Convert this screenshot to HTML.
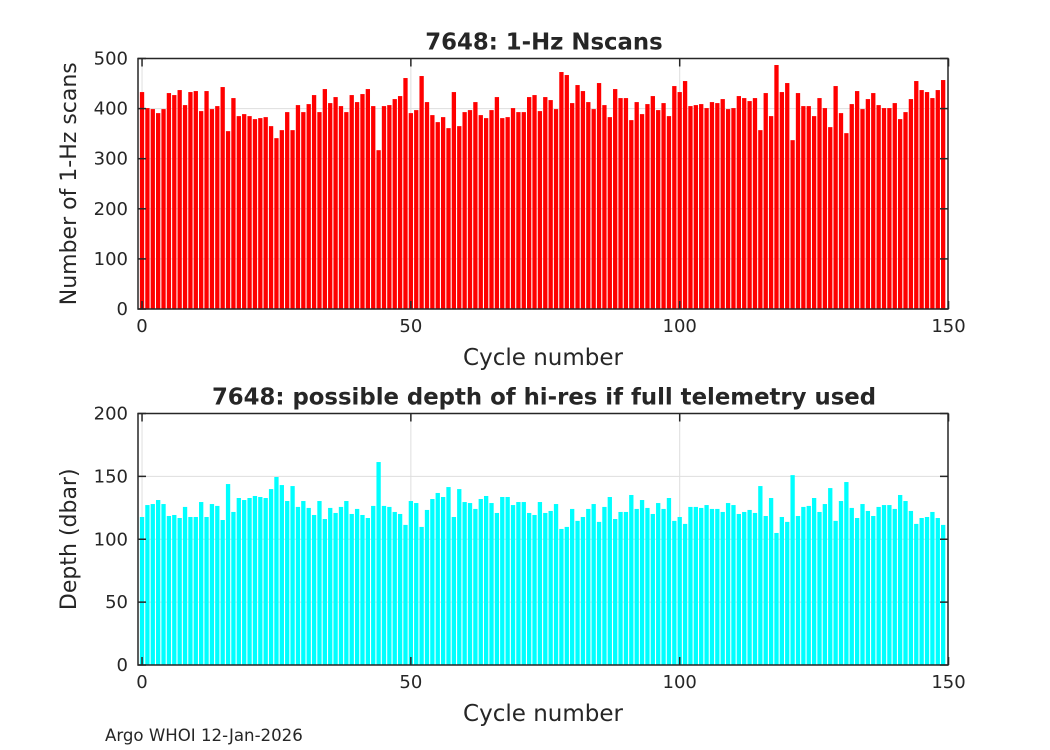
<!DOCTYPE html>
<html><head><meta charset="utf-8"><style>
body{margin:0;background:#fff;width:1050px;height:750px;overflow:hidden}
svg{display:block}
text{font-family:"DejaVu Sans","Liberation Sans",sans-serif;fill:#262626}
</style></head><body>
<svg id="chart" width="1050" height="750" viewBox="0 0 1050 750">
<rect width="1050" height="750" fill="#fff"/>
<text x="105" y="741" font-size="16.6" fill="#000">Argo WHOI 12-Jan-2026</text>
</svg>
<script>
const nscans = [433,401,399,391,399,431,427,437,407,433,435,395,435,399,405,443,355,421,385,389,385,379,381,383,365,341,357,393,357,407,393,409,427,393,439,411,423,405,393,427,413,429,439,405,317,405,407,419,425,461,391,397,465,413,387,373,383,361,433,365,393,397,413,387,381,397,423,381,383,401,393,393,423,427,395,423,417,399,473,467,411,447,435,413,399,451,407,383,439,421,421,377,413,389,409,425,397,411,385,445,433,455,405,407,409,401,413,411,419,399,401,425,421,415,421,357,431,385,487,433,451,337,431,405,405,385,421,401,363,445,391,351,409,435,399,419,431,407,401,401,411,379,393,419,455,437,433,421,437,457];
const depth = [117.7,127.2,128,131.2,128,118.5,119.3,116.9,125.7,117.7,117.7,129.6,117.7,128,126.5,115.3,143.9,121.7,132.8,131.2,132.8,134.4,133.6,132.8,139.9,149.5,143.1,130.4,142.3,125.7,130.4,124.9,119.3,130.4,116.1,124.9,120.9,125.7,130.4,120.1,124.1,119.3,116.9,126.5,161.4,126.5,125.7,121.7,120.1,111.4,130.4,128.8,109.8,123.3,132,136.8,133.6,141.5,117.7,139.9,129.6,128.8,124.1,132,134.4,128.8,120.9,133.6,133.6,127.2,129.6,129.6,120.9,119.3,129.6,120.9,122.5,128,108.2,109.8,124.1,114.6,117.7,124.1,128,113.8,125.7,133.6,116.1,121.7,121.7,135.2,124.1,131.2,124.9,120.1,128.8,124.1,132.8,114.6,117.7,112.2,125.7,125.7,124.9,127.2,124.1,124.1,121.7,128.8,127.2,120.1,121.7,123.3,120.9,142.3,118.5,132.8,105,117.7,113.8,151,118.5,125.7,126.5,132.8,121.7,128,140.7,114.6,130.4,145.5,124.9,116.9,128,122.5,118.5,125.7,127.2,127.2,124.1,135.2,130.4,122.5,112.2,116.9,117.7,121.7,116.9,111.4];
const xTicks = [0,50,100,150];
const yTicksTop = [0,100,200,300,400,500];
const yTicksBot = [0,50,100,150,200];

const NS='http://www.w3.org/2000/svg';
const svg=document.getElementById('chart');
function mk(tag,attrs,parent){const e=document.createElementNS(NS,tag);for(const k in attrs)e.setAttribute(k,attrs[k]);(parent||svg).appendChild(e);return e;}
const L=138,R=948,XMIN=-0.75,XMAX=149.9;
function xs(v){return L+(v-XMIN)/(XMAX-XMIN)*(R-L);}

function panel(name,top,bot,ymax,yt,data,color,title,ylabel){
  const g=mk('g',{});
  
  
  const ys=v=>bot-(v/ymax)*(bot-top);
  mk('rect',{x:L,y:top,width:R-L,height:bot-top,fill:'#fff'},g);
  yt.forEach(t=>{if(t>0&&t<ymax){const l=mk('line',{x1:L,x2:R,y1:ys(t),y2:ys(t),stroke:'#dedede','stroke-width':1},g);
    
    }});
  xTicks.forEach(t=>{const x=xs(t);if(x>L+1&&x<R-1){const l=mk('line',{x1:x,x2:x,y1:top,y2:bot,stroke:'#dedede','stroke-width':1},g);
    
    }});
  const bw=0.8*(R-L)/(XMAX-XMIN);
  data.forEach((v,i)=>{const y=ys(v);const b=mk('rect',{x:xs(i)-bw/2,y:y,width:bw,height:bot-y,fill:color},g);
    
    });
  const box=mk('rect',{x:L,y:top,width:R-L,height:bot-top,fill:'none',stroke:'#262626','stroke-width':1.5},g);
  
  
  yt.forEach(t=>{const y=ys(t);
    mk('line',{x1:L,x2:L+8,y1:y,y2:y,stroke:'#262626','stroke-width':1.5},g);
    mk('line',{x1:R,x2:R-8,y1:y,y2:y,stroke:'#262626','stroke-width':1.5},g);
    const tx=mk('text',{x:L-10,y:y+6,'text-anchor':'end','font-size':18},g);tx.textContent=t;
    
    });
  xTicks.forEach(t=>{const x=xs(t);
    mk('line',{x1:x,x2:x,y1:bot,y2:bot-8,stroke:'#262626','stroke-width':1.5},g);
    mk('line',{x1:x,x2:x,y1:top,y2:top+8,stroke:'#262626','stroke-width':1.5},g);
    const tx=mk('text',{x:x,y:bot+23,'text-anchor':'middle','font-size':18},g);tx.textContent=t;
    
    });
  const ti=mk('text',{x:(L+R)/2+1,y:top-9,'text-anchor':'middle','font-size':22.8,'font-weight':'bold',fill:'#000'},g);ti.textContent=title;
  
  
  const xl=mk('text',{x:(L+R)/2,y:bot+56,'text-anchor':'middle','font-size':23},g);xl.textContent='Cycle number';
  
  
  const cy=(top+bot)/2;
  const yl=mk('text',{x:76,y:cy,'text-anchor':'middle','font-size':22,transform:'rotate(-90 76 '+cy+')'},g);yl.textContent=ylabel;
  
  
}
panel('nscans-panel',58.5,309,500,yTicksTop,nscans,'#ff0000','7648: 1-Hz Nscans','Number of 1-Hz scans');
panel('depth-panel',413.5,665,200,yTicksBot,depth,'#00ffff','7648: possible depth of hi-res if full telemetry used','Depth (dbar)');
</script>
</body></html>
